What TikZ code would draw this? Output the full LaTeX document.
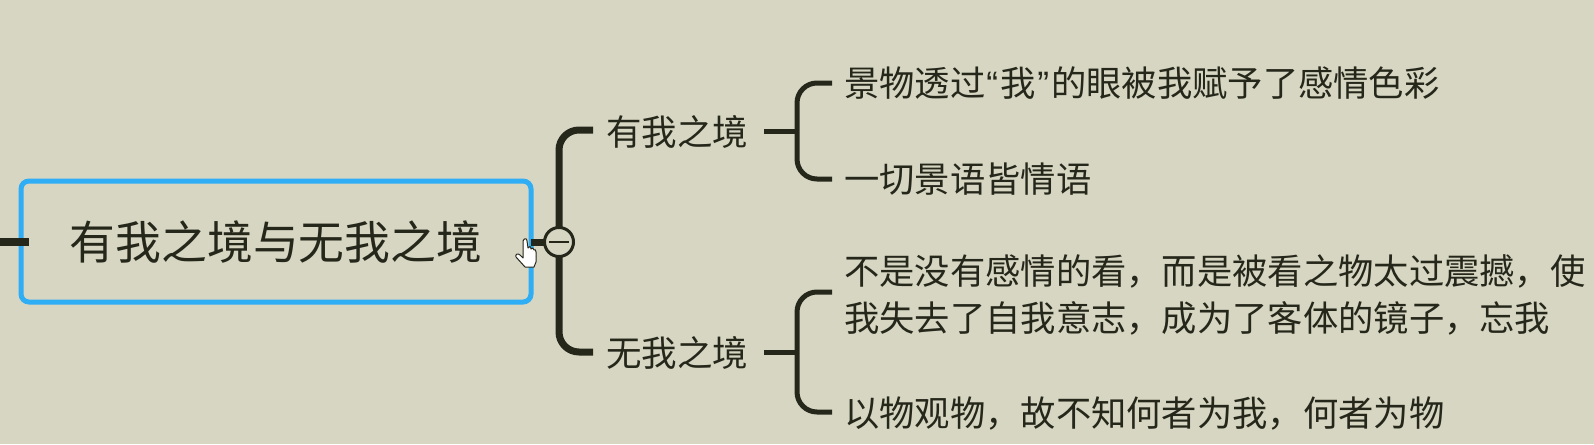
\documentclass[tikz,border=0pt]{standalone}
\usepackage{fontspec}
\setmainfont{Noto Sans CJK SC}
\newfontfamily\quotefont{Liberation Sans}
\definecolor{bgc}{HTML}{D6D6C2}
\definecolor{ink}{HTML}{26271B}
\definecolor{sel}{HTML}{2FAEF5}
\tikzset{
  topic/.style={inner sep=0pt,text=ink,font=\fontsize{45.8}{46}\selectfont,anchor=center},
  sub/.style={inner sep=0pt,text=ink,font=\fontsize{35.5}{35.5}\selectfont,anchor=west},
  leaf/.style={inner sep=0pt,text=ink,font=\fontsize{35.3}{46.5}\selectfont,anchor=west,align=left},
  thick stem/.style={draw=ink,line width=7pt,rounded corners=20pt},
  thin stem/.style={draw=ink,line width=5pt,rounded corners=20pt},
  selbox/.style={draw=sel,line width=5pt,rounded corners=8pt},
}
\begin{document}
\begin{tikzpicture}[x=1pt,y=-1pt]
\useasboundingbox (0,0) rectangle (1594,444);
\fill[bgc] (0,0) rectangle (1594,444);
\coordinate (in) at (0,242);
\coordinate (inend) at (29,242);
\coordinate (hub) at (559,242);
\node[sub] (s1) at (606,132) {有我之境};
\node[sub] (s2) at (606,353) {无我之境};
\node[leaf] (l1) at (844,83) {景物透过{\quotefont \hspace{1pt}“\hspace{2pt}}我{\quotefont\hspace{2pt}”\hspace{2pt}}的眼被我赋予了感情色彩};
\node[leaf] (l2) at (844,179) {一切景语皆情语};
\node[leaf] (l3) at (844,295) {不是没有感情的看，而是被看之物太过震撼，使\\我失去了自我意志，成为了客体的镜子，忘我};
\node[leaf] (l4) at (844,414) {以物观物，故不知何者为我，何者为物};
\coordinate (e1) at (593,130);
\coordinate (e2) at (593,352);
\coordinate (j1) at (797,131);
\coordinate (j2) at (797,352);
\coordinate (k1) at (832,83);
\coordinate (k2) at (832,179);
\coordinate (k3) at (832,292);
\coordinate (k4) at (832,412);
\node[topic] (root) at (276,242) {有我之境与无我之境};
\draw[selbox] (21,181) rectangle (531,302);
\draw[draw=ink,line width=8pt] (in) -- (inend);
\draw[thick stem] (e1) -| (hub) |- (e2);
\draw[draw=ink,line width=7pt] (531,242) -- (hub);
\node[circle,draw=ink,line width=3pt,fill=bgc,minimum size=29pt,inner sep=0pt] (col) at (hub) {};
\draw[draw=ink,line width=2.5pt] ([xshift=-10pt]col.center) -- ([xshift=10pt]col.center);
\draw[thin stem] (k1) -| (j1) |- (k2);
\draw[thin stem] (k3) -| (j2) |- (k4);
\draw[draw=ink,line width=5pt] (764,131) -- (j1);
\draw[draw=ink,line width=5pt] (764,352) -- (j2);
% hand cursor
\draw[draw=ink,line width=1pt,fill=white,line join=round]
 (523,241) .. controls (524,238) and (527,238) .. (527,241)
 -- (528,248) .. controls (529,246) and (531,246) .. (531,249)
 .. controls (532,247) and (534,248) .. (534,250)
 .. controls (535,249) and (536,250) .. (536,252)
 -- (536,262) -- (534,267) -- (525,267)
 -- (516,257) .. controls (515,254) and (518,253) .. (520,255)
 -- (523,258) -- cycle;
\end{tikzpicture}
\end{document}
